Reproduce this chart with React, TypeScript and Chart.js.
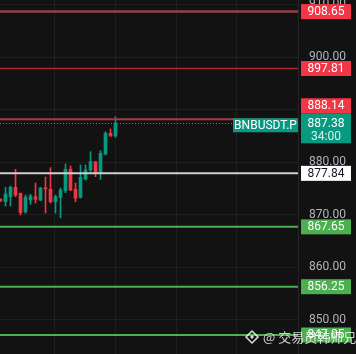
import React, { useEffect, useRef } from "react";
import { Chart, registerables } from "chart.js";

Chart.register(...registerables);

// ---- data ----
const opens = [872.9, 872.44, 873.39, 875.18, 874.04, 870.53, 872.76, 873.39, 872.76, 875.1, 874.8, 872.44, 873.28, 874.53, 878.61, 874.8, 873.28, 876.76, 878.48, 880.06, 877.85, 881.52, 885.47, 884.95];
const closes = [872.6, 873.9, 875.18, 873.71, 870.34, 873.28, 873.52, 872.9, 875.05, 874.86, 872.44, 873.39, 874.67, 878.61, 874.67, 873.09, 877.09, 878.48, 880.06, 877.85, 881.66, 885.47, 884.95, 887.38];
const highs = [873.0, 875.18, 875.43, 878.61, 874.1, 873.71, 873.85, 876.0, 875.18, 877.14, 878.91, 873.71, 875.05, 879.62, 879.24, 876.0, 879.43, 879.43, 881.96, 880.1, 882.15, 885.77, 886.29, 888.63];
const lows = [872.5, 871.62, 871.62, 873.39, 869.9, 870.23, 871.94, 872.19, 872.63, 870.29, 872.19, 870.29, 869.33, 874.15, 874.53, 872.44, 873.14, 876.57, 878.15, 877.2, 876.7, 881.33, 884.9, 884.7];

const yTickValues = [850, 860, 870, 880, 890, 900, 910];
const xGridValues = [11.7, 23.9, 36.1, 48.3];

const levelPrices = [908.65, 897.81, 888.14, 877.84, 867.65, 856.25, 847.05];
const levelKinds = ["resistance", "resistance", "resistance", "pivot", "support", "support", "support"];

const symbolName = "BNBUSDT.P";
const countdown = "34:00";
const watermark = "@ 交易员韩师兄";

// ---- styles ----
const UP = "#089981";
const DOWN = "#f23645";
const BG = "#121212";
const GRID = "rgba(255,255,255,0.06)";
const lineStyles = [
  { color: "#94404b", width: 2.5 },
  { color: "#b2272f", width: 1.5 },
  { color: "#a63a45", width: 2 },
  { color: "#cfcfcf", width: 2 },
  { color: "#4caf50", width: 2 },
  { color: "#4caf50", width: 2 },
  { color: "#4caf50", width: 2 },
];
const boxStyle: Record<string, { bg: string; fg: string }> = {
  resistance: { bg: "#f23645", fg: "#ffffff" },
  pivot: { bg: "#ffffff", fg: "#131722" },
  support: { bg: "#4caf50", fg: "#ffffff" },
};

const FONT = "Roboto, 'Noto Sans', sans-serif";

const levelsPlugin = {
  id: "levels",
  beforeDraw(chart: any) {
    const { ctx, width, height } = chart;
    ctx.save();
    ctx.fillStyle = BG;
    ctx.fillRect(0, 0, width, height);
    ctx.restore();
  },
  afterDatasetsDraw(chart: any) {
    const { ctx, chartArea, scales } = chart;
    const y = scales.y;
    const L = chartArea.left;
    const R = chartArea.right;
    ctx.save();
    levelPrices.forEach((p, i) => {
      const py = y.getPixelForValue(p);
      ctx.strokeStyle = lineStyles[i].color;
      ctx.lineWidth = lineStyles[i].width;
      ctx.beginPath();
      ctx.moveTo(L, py);
      ctx.lineTo(R, py);
      ctx.stroke();
    });
    const cur = closes[closes.length - 1];
    const cy = y.getPixelForValue(cur);
    ctx.strokeStyle = "#1aa88f";
    ctx.lineWidth = 1;
    ctx.setLineDash([1, 2]);
    ctx.beginPath();
    ctx.moveTo(L, Math.round(cy) + 0.5);
    ctx.lineTo(R, Math.round(cy) + 0.5);
    ctx.stroke();
    ctx.setLineDash([]);

    const bx = R + 3;
    const bw = 50;
    const bh = 15;
    const curTop = cy - 10;
    const curH = 30;
    ctx.font = "12px " + FONT;
    ctx.textAlign = "center";
    ctx.textBaseline = "middle";
    levelPrices.forEach((p, i) => {
      let c = y.getPixelForValue(p);
      const top = c - bh / 2;
      if (top + bh > curTop && top < curTop + curH) {
        if (p >= cur) c = curTop - bh / 2;
        else c = curTop + curH + bh / 2;
      }
      const st = boxStyle[levelKinds[i]];
      ctx.fillStyle = st.bg;
      ctx.fillRect(bx, c - bh / 2, bw, bh);
      ctx.fillStyle = st.fg;
      ctx.fillText(p.toFixed(2), bx + bw / 2, c + 0.5);
    });
    ctx.fillStyle = UP;
    ctx.fillRect(bx, curTop, bw, curH);
    ctx.fillStyle = "#ffffff";
    ctx.fillText(cur.toFixed(2), bx + bw / 2, curTop + 10.5);
    ctx.fillStyle = "rgba(255,255,255,0.85)";
    ctx.fillText(countdown, bx + bw / 2, curTop + 24);
    const sw = 65;
    ctx.fillStyle = UP;
    ctx.fillRect(R - sw, cy - 5, sw, 14);
    ctx.fillStyle = "#ffffff";
    ctx.fillText(symbolName, R - sw / 2, cy + 2.5);
    ctx.restore();
  },
  afterDraw(chart: any) {
    const { ctx } = chart;
    ctx.save();
    const lx = 252, ly = 337;
    ctx.strokeStyle = "rgba(255,255,255,0.85)";
    ctx.fillStyle = "rgba(255,255,255,0.85)";
    ctx.lineWidth = 1.5;
    ctx.beginPath();
    ctx.moveTo(lx, ly - 6);
    ctx.lineTo(lx + 6, ly);
    ctx.lineTo(lx, ly + 6);
    ctx.lineTo(lx - 6, ly);
    ctx.closePath();
    ctx.stroke();
    ctx.beginPath();
    ctx.moveTo(lx, ly - 2);
    ctx.lineTo(lx + 2, ly);
    ctx.lineTo(lx, ly + 2);
    ctx.lineTo(lx - 2, ly);
    ctx.closePath();
    ctx.fill();
    ctx.font = "13px 'Noto Sans CJK SC', sans-serif";
    ctx.textAlign = "left";
    ctx.textBaseline = "middle";
    ctx.fillStyle = "rgba(255,255,255,0.8)";
    ctx.fillText(watermark, 263, ly);
    ctx.restore();
  },
};

export default function App() {
  const ref = useRef<HTMLCanvasElement | null>(null);
  useEffect(() => {
    document.body.style.margin = "0";
    document.body.style.background = BG;
    const xs = closes.map((_, i) => i + 1);
    const wickData = xs.map((x, i) => ({ x, y: [lows[i], highs[i]] }));
    const bodyData = xs.map((x, i) => ({ x, y: [opens[i], closes[i]] }));
    const colors = xs.map((_, i) => (closes[i] >= opens[i] ? UP : DOWN));
    const chart = new Chart(ref.current as HTMLCanvasElement, {
      type: "bar",
      data: {
        datasets: [
          {
            data: wickData as any,
            backgroundColor: colors,
            barThickness: 1,
            grouped: false,
            minBarLength: 1,
          } as any,
          {
            data: bodyData as any,
            backgroundColor: colors,
            barThickness: 3,
            grouped: false,
            minBarLength: 1,
          } as any,
        ],
      },
      options: {
        animation: false,
        responsive: true,
        maintainAspectRatio: false,
        layout: { padding: 0 },
        plugins: { legend: { display: false }, tooltip: { enabled: false } },
        scales: {
          x: {
            type: "linear",
            min: 0.9,
            max: 60.5,
            offset: false,
            grid: { color: GRID, drawTicks: false, offset: false },
            border: { display: false },
            ticks: { display: false },
            afterBuildTicks: (s: any) => {
              s.ticks = xGridValues.map((v) => ({ value: v }));
            },
            afterFit: (s: any) => {
              s.height = 0;
              s.paddingLeft = 0;
              s.paddingRight = 0;
            },
          },
          y: {
            type: "linear",
            position: "right",
            min: 843.43,
            max: 910.857,
            grid: { color: GRID, drawTicks: false },
            border: { display: true, color: "rgba(255,255,255,0.08)" },
            ticks: {
              color: "#b2b5be",
              font: { family: FONT, size: 12 },
              crossAlign: "near",
              padding: 11,
              callback: (v: any) => Number(v).toFixed(2),
            },
            afterBuildTicks: (s: any) => {
              s.ticks = yTickValues.map((v) => ({ value: v }));
            },
            afterFit: (s: any) => {
              s.width = 58;
              s.paddingTop = 0;
              s.paddingBottom = 0;
            },
          },
        },
      },
      plugins: [levelsPlugin],
    } as any);
    return () => chart.destroy();
  }, []);
  return (
    <div style={{ position: "fixed", left: 0, top: 0, width: 356, height: 354, background: BG }}>
      <canvas ref={ref} />
    </div>
  );
}
